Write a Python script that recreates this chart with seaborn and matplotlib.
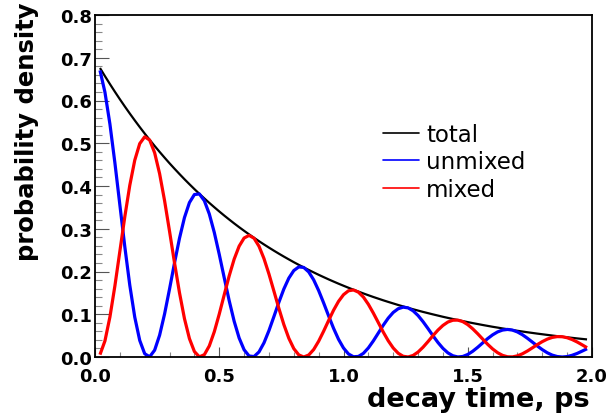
import numpy as np
import pandas as pd
import matplotlib
matplotlib.use("Agg")
import matplotlib.pyplot as plt
import seaborn as sns
from matplotlib.ticker import MultipleLocator
from matplotlib.lines import Line2D

# decay time (ps), sampled every 0.02 ps from 0.02 to 1.98
time_ps = [round(0.02 + 0.02 * i, 2) for i in range(99)]

total = [
    0.6760, 0.6570, 0.6385, 0.6205, 0.6030, 0.5860, 0.5695, 0.5535, 0.5379, 0.5227,
    0.5080, 0.4937, 0.4798, 0.4663, 0.4531, 0.4404, 0.4280, 0.4159, 0.4042, 0.3928,
    0.3817, 0.3710, 0.3605, 0.3504, 0.3405, 0.3309, 0.3216, 0.3125, 0.3037, 0.2952,
    0.2869, 0.2788, 0.2709, 0.2633, 0.2559, 0.2487, 0.2417, 0.2349, 0.2283, 0.2218,
    0.2156, 0.2095, 0.2036, 0.1979, 0.1923, 0.1869, 0.1816, 0.1765, 0.1715, 0.1667,
    0.1620, 0.1574, 0.1530, 0.1487, 0.1445, 0.1404, 0.1365, 0.1326, 0.1289, 0.1253,
    0.1217, 0.1183, 0.1150, 0.1117, 0.1086, 0.1055, 0.1026, 0.0997, 0.0969, 0.0941,
    0.0915, 0.0889, 0.0864, 0.0840, 0.0816, 0.0793, 0.0771, 0.0749, 0.0728, 0.0707,
    0.0688, 0.0668, 0.0650, 0.0631, 0.0613, 0.0596, 0.0579, 0.0563, 0.0547, 0.0532,
    0.0517, 0.0502, 0.0488, 0.0474, 0.0461, 0.0448, 0.0435, 0.0423, 0.0411,
]

unmixed = [
    0.6705, 0.6194, 0.5450, 0.4544, 0.3559, 0.2577, 0.1679, 0.0932, 0.0388, 0.0076,
    0.0005, 0.0160, 0.0510, 0.1007, 0.1592, 0.2202, 0.2777, 0.3261, 0.3612, 0.3800,
    0.3814, 0.3656, 0.3345, 0.2914, 0.2401, 0.1854, 0.1318, 0.0836, 0.0445, 0.0169,
    0.0024, 0.0010, 0.0119, 0.0331, 0.0618, 0.0946, 0.1281, 0.1591, 0.1845, 0.2022,
    0.2107, 0.2095, 0.1990, 0.1804, 0.1554, 0.1266, 0.0963, 0.0671, 0.0414, 0.0210,
    0.0071, 0.0006, 0.0013, 0.0085, 0.0212, 0.0376, 0.0559, 0.0743, 0.0909, 0.1042,
    0.1129, 0.1166, 0.1149, 0.1081, 0.0970, 0.0827, 0.0666, 0.0498, 0.0340, 0.0203,
    0.0097, 0.0029, 0.0001, 0.0012, 0.0059, 0.0134, 0.0227, 0.0329, 0.0430, 0.0518,
    0.0587, 0.0630, 0.0645, 0.0629, 0.0586, 0.0521, 0.0439, 0.0349, 0.0257, 0.0172,
    0.0099, 0.0044, 0.0011, 0.0000, 0.0010, 0.0040, 0.0083, 0.0137, 0.0193,
]

mixed = [
    0.0055, 0.0376, 0.0935, 0.1661, 0.2471, 0.3283, 0.4016, 0.4603, 0.4991, 0.5151,
    0.5075, 0.4777, 0.4288, 0.3656, 0.2939, 0.2202, 0.1503, 0.0898, 0.0430, 0.0128,
    0.0003, 0.0054, 0.0260, 0.0590, 0.1004, 0.1455, 0.1898, 0.2289, 0.2592, 0.2783,
    0.2845, 0.2778, 0.2590, 0.2302, 0.1941, 0.1541, 0.1136, 0.0758, 0.0438, 0.0196,
    0.0049, 0.0000, 0.0046, 0.0175, 0.0369, 0.0603, 0.0853, 0.1094, 0.1301, 0.1457,
    0.1549, 0.1568, 0.1517, 0.1402, 0.1233, 0.1028, 0.0806, 0.0583, 0.0380, 0.0211,
    0.0088, 0.0017, 0.0001, 0.0036, 0.0116, 0.0228, 0.0360, 0.0499, 0.0629, 0.0738,
    0.0818, 0.0860, 0.0863, 0.0828, 0.0757, 0.0659, 0.0544, 0.0420, 0.0298, 0.0189,
    0.0101, 0.0038, 0.0005, 0.0002, 0.0027, 0.0075, 0.0140, 0.0214, 0.0290, 0.0360,
    0.0418, 0.0458, 0.0477, 0.0474, 0.0451, 0.0408, 0.0352, 0.0286, 0.0218,
]

series_names = ["total", "unmixed", "mixed"]
series_colors = ["black", "blue", "red"]
x_ticks = [0.0, 0.5, 1.0, 1.5, 2.0]
y_ticks = [0.0, 0.1, 0.2, 0.3, 0.4, 0.5, 0.6, 0.7, 0.8]

df = pd.DataFrame({
    "t": time_ps * 3,
    "value": total + unmixed + mixed,
    "series": [s for s in series_names for _ in time_ps],
})

sns.set_style("white")
plt.rcParams["font.family"] = ["DejaVu Sans"]
plt.rcParams["text.color"] = "black"
plt.rcParams["axes.labelcolor"] = "black"
plt.rcParams["xtick.color"] = "black"
plt.rcParams["ytick.color"] = "black"

fig = plt.figure(figsize=(6.13, 4.14), dpi=100)
ax = fig.add_axes([95 / 613, 56 / 414, 497 / 613, 342 / 414])

palette = dict(zip(series_names, series_colors))
sns.lineplot(data=df, x="t", y="value", hue="series", hue_order=series_names,
             palette=palette, ax=ax, legend=False, estimator=None, sort=False)
widths = {"total": 1.6, "unmixed": 2.3, "mixed": 2.3}
for line, name in zip(ax.get_lines(), series_names):
    line.set_linewidth(widths[name])
    line.set_solid_capstyle("butt")

ax.set_xlim(0.0, 2.0)
ax.set_ylim(0.0, 0.8)
ax.set_xticks(x_ticks)
ax.set_yticks(y_ticks)
ax.set_xticklabels([f"{v:.1f}" for v in x_ticks])
ax.set_yticklabels([f"{v:.1f}" for v in y_ticks])
ax.xaxis.set_minor_locator(MultipleLocator(0.1))
ax.yaxis.set_minor_locator(MultipleLocator(0.02))

ax.tick_params(axis="both", which="both", direction="in", left=True, bottom=True,
               top=False, right=False, color="#555555", width=0.8,
               labelcolor="black")
ax.tick_params(axis="y", which="major", length=10, pad=2, labelsize=13)
ax.tick_params(axis="y", which="minor", length=5, color="#888888")
ax.tick_params(axis="x", which="major", length=7.5, pad=7, labelsize=13)
ax.tick_params(axis="x", which="minor", length=3.8, color="#888888")
for lab in ax.get_xticklabels() + ax.get_yticklabels():
    lab.set_fontweight("bold")

for sp in ax.spines.values():
    sp.set_visible(True)
    sp.set_color("black")
    sp.set_linewidth(1.3)

ax.set_xlabel("decay time, ps", fontsize=19.5, fontweight="bold", loc="right",
              color="black")
ax.xaxis.label.set_va("baseline")
ax.xaxis.set_label_coords(0.995, -0.143)

ax.set_ylabel("probability density", fontsize=17.5, fontweight="bold", loc="top",
              color="black")
ax.yaxis.label.set_va("center")
ax.yaxis.set_label_coords(-0.137, 1.04)

handles = [Line2D([], [], color=c, lw=1.2) for c in series_colors]
leg = ax.legend(handles, series_names, loc="upper left", bbox_to_anchor=(0.5795, 0.685),
                frameon=False, fontsize=16.5, handlelength=1.55, handletextpad=0.33,
                labelspacing=0.2, borderpad=0, borderaxespad=0)
for txt in leg.get_texts():
    txt.set_color("black")

fig.savefig("out.png", dpi=100)
